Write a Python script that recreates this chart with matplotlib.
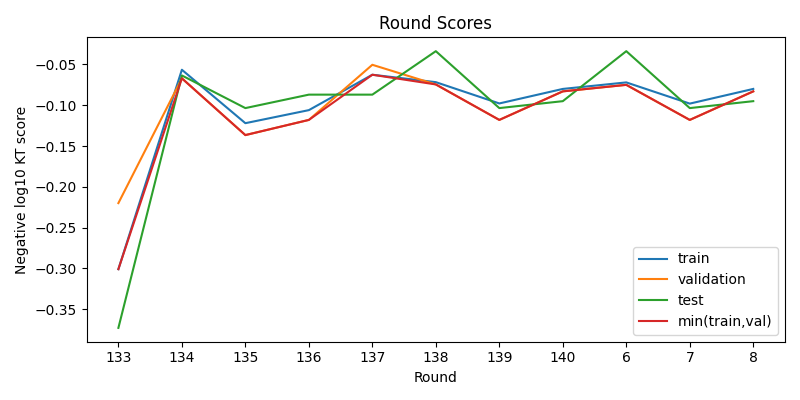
import matplotlib
matplotlib.use("Agg")
import matplotlib.pyplot as plt

rounds = ["133", "134", "135", "136", "137", "138", "139", "140", "6", "7", "8"]
train = [-0.301, -0.0565, -0.122, -0.106, -0.0626, -0.0717, -0.0978, -0.080, -0.072, -0.098, -0.080]
validation = [-0.220, -0.067, -0.1366, -0.118, -0.0504, -0.0745, -0.118, -0.083, -0.075, -0.118, -0.083]
test = [-0.373, -0.0635, -0.1035, -0.087, -0.087, -0.0337, -0.1035, -0.095, -0.0337, -0.1035, -0.095]
min_train_val = [min(a, b) for a, b in zip(train, validation)]

fig, ax = plt.subplots(figsize=(8, 4), dpi=100)
ax.plot(rounds, train, label="train")
ax.plot(rounds, validation, label="validation")
ax.plot(rounds, test, label="test")
ax.plot(rounds, min_train_val, label="min(train,val)")

ax.set_title("Round Scores")
ax.set_xlabel("Round")
ax.set_ylabel("Negative log10 KT score")
ax.legend(loc="lower right")

plt.tight_layout()
plt.savefig("out.png")
